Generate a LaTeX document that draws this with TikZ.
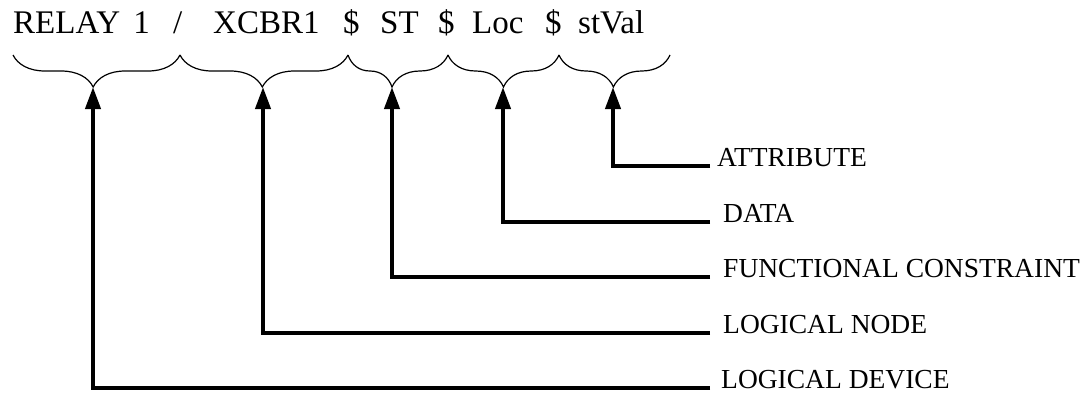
\documentclass[tikz,border=0pt]{standalone}
\usepackage{fontspec}
\setmainfont{Liberation Serif}
\usetikzlibrary{arrows.meta}
\usetikzlibrary{decorations.pathreplacing}
\tikzstyle{word}=[inner sep=0pt, anchor=base west, font=\fontsize{33}{38}\selectfont]
\tikzstyle{lbl}=[inner xsep=13pt, inner ysep=0pt, anchor=base west, font=\fontsize{27.5}{32}\selectfont]
\tikzstyle{field}=[decorate, decoration={brace, mirror, amplitude=32pt}, line width=1.2pt]
\tikzstyle{pointer}=[line width=4pt, -{Triangle[length=22pt, width=15pt]}]

\begin{document}
\begin{tikzpicture}[x=1pt, y=-1pt]
        \useasboundingbox (0, 0) rectangle (1091, 392);
        % object reference
        \node[word] (relay) at (13, 33) {RELAY\hspace{5pt} 1};
        \node[word] (slash) at (173, 33) {/};
        \node[word] (xcbr) at (213, 33) {XCBR1};
        \node[word] (sepa) at (343, 33) {\$};
        \node[word] (st) at (380, 33) {ST};
        \node[word] (sepb) at (438, 33) {\$};
        \node[word] (loc) at (472, 33) {Loc};
        \node[word] (sepc) at (545, 33) {\$};
        \node[word] (stval) at (578, 33) {stVal};
        % braces under the parts
        \draw[field, decoration={aspect=0.48}] (13, 55) -- (180, 55);
        \draw[field, decoration={aspect=0.49}] (180, 55) -- (348, 55);
        \draw[field, decoration={aspect=0.44}] (348, 55) -- (448, 55);
        \draw[field, decoration={aspect=0.50}] (448, 55) -- (559, 55);
        \draw[field, decoration={aspect=0.49}] (559, 55) -- (670, 55);
        \coordinate (ldtip) at (93, 87);
        \coordinate (lntip) at (263, 87);
        \coordinate (fctip) at (392, 87);
        \coordinate (datatip) at (503, 87);
        \coordinate (attrtip) at (613, 87);
        % names of the parts
        \node[lbl, inner xsep=7pt] (attr) at (710, 166) {ATTRIBUTE};
        \node[lbl] (data) at (710, 222) {DATA};
        \node[lbl] (fc) at (710, 277) {FUNCTIONAL CONSTRAINT};
        \node[lbl] (ln) at (710, 333) {LOGICAL NODE};
        \node[lbl, inner xsep=11pt] (ld) at (710, 388) {LOGICAL DEVICE};
        \draw[pointer] (attr.base west) -| (attrtip);
        \draw[pointer] (data.base west) -| (datatip);
        \draw[pointer] (fc.base west) -| (fctip);
        \draw[pointer] (ln.base west) -| (lntip);
        \draw[pointer] (ld.base west) -| (ldtip);
    \end{tikzpicture}
\end{document}
